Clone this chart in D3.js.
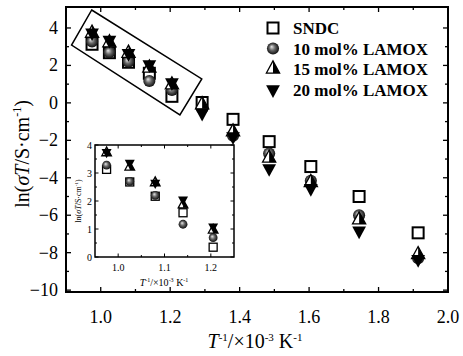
<!DOCTYPE html>
<html>
<head>
<meta charset="utf-8">
<script src="https://cdn.jsdelivr.net/npm/d3@7"></script>
<style>
  body { margin: 0; background: #fff; }
  text { font-family: "Liberation Serif", "Times New Roman", serif; }
</style>
</head>
<body>
<script>
// data
var invT = [0.975, 1.025, 1.08, 1.14, 1.205, 1.292, 1.381, 1.485, 1.605, 1.744, 1.914];
var sndc = [3.13, 2.68, 2.17, 1.58, 0.35, 0.02, -0.88, -2.07, -3.4, -5.0, -6.94];
var lamox10 = [3.28, 2.7, 2.2, 1.17, 0.69, -0.3, -1.75, -2.7, -4.16, -6.0, -8.3];
var lamox15 = [3.72, 3.21, 2.65, 1.86, 0.96, -0.1, -1.55, -2.95, -4.25, -6.25, -8.1];
var lamox20 = [3.75, 3.36, 2.65, 2.05, 1.09, -0.54, -1.8, -3.5, -4.56, -6.83, -8.35];
var seriesNames = ["SNDC", "10 mol% LAMOX", "15 mol% LAMOX", "20 mol% LAMOX"];
var xTicks = [1.0, 1.2, 1.4, 1.6, 1.8, 2.0];
var yTicks = [-10, -8, -6, -4, -2, 0, 2, 4];
var insetXTicks = [1.0, 1.1, 1.2];
var insetYTicks = [0, 1, 2, 3, 4];
// highlight box corners (data units)
var boxCorners = [[0.974, 4.96], [1.291, 1.28], [1.228, -0.64], [0.916, 3.09]];

var W = 463, H = 356;
var svg = d3.select("body").append("svg").attr("width", W).attr("height", H);

var defs = svg.append("defs");
var grad = defs.append("radialGradient").attr("id", "ball")
  .attr("cx", "0.5").attr("cy", "0.5").attr("r", "0.55").attr("fx", "0.38").attr("fy", "0.35");
grad.append("stop").attr("offset", "0").attr("stop-color", "#e8e8e8");
grad.append("stop").attr("offset", "0.45").attr("stop-color", "#666");
grad.append("stop").attr("offset", "1").attr("stop-color", "#000");

var series = [sndc, lamox10, lamox15, lamox20];

// draw one marker of type k at (px,py) with size s
function marker(g, k, px, py, s) {
  var m = g.append("g").attr("transform", "translate(" + px + "," + py + ")");
  if (k === 0) {
    m.append("rect").attr("x", -s / 2).attr("y", -s / 2).attr("width", s).attr("height", s)
      .attr("fill", "#fff").attr("stroke", "#000").attr("stroke-width", s > 9 ? 2 : 1.3);
  } else if (k === 1) {
    m.append("circle").attr("r", s * 0.55).attr("fill", "url(#ball)");
  } else if (k === 2) {
    var w = s * 1.2, h = s * 1.1;
    m.append("path").attr("d", "M0," + (-2 * h / 3) + "L" + (-w / 2) + "," + (h / 3) + "L" + (w / 2) + "," + (h / 3) + "Z")
      .attr("fill", "#fff");
    m.append("path").attr("d", "M0," + (-2 * h / 3) + "L" + (w / 2) + "," + (h / 3) + "L0," + (h / 3) + "Z")
      .attr("fill", "#000");
    m.append("path").attr("d", "M0," + (-2 * h / 3) + "L" + (-w / 2) + "," + (h / 3) + "L" + (w / 2) + "," + (h / 3) + "Z")
      .attr("fill", "none").attr("stroke", "#000").attr("stroke-width", 1.3);
  } else {
    var w2 = s * 1.25, h2 = s * 1.15;
    m.append("path").attr("d", "M0," + (2 * h2 / 3) + "L" + (-w2 / 2) + "," + (-h2 / 3) + "L" + (w2 / 2) + "," + (-h2 / 3) + "Z")
      .attr("fill", "#000");
  }
}

function ticks(g, scale, vals, orient, len, otherPos) {
  vals.forEach(function (v) {
    var p = scale(v);
    if (orient === "x") {
      g.append("line").attr("x1", p).attr("x2", p).attr("y1", otherPos[0]).attr("y2", otherPos[0] - len);
      g.append("line").attr("x1", p).attr("x2", p).attr("y1", otherPos[1]).attr("y2", otherPos[1] + len);
    } else {
      g.append("line").attr("y1", p).attr("y2", p).attr("x1", otherPos[0]).attr("x2", otherPos[0] + len);
      g.append("line").attr("y1", p).attr("y2", p).attr("x1", otherPos[1]).attr("x2", otherPos[1] - len);
    }
  });
}

// ---- main plot ----
var L = 66, R = 448, T = 7, B = 292;
var x = d3.scaleLinear().domain([0.9, 2.0]).range([L, R]);
var y = d3.scaleLinear().domain([-10.1, 5.12]).range([B, T]);

var tk = svg.append("g").attr("stroke", "#000").attr("stroke-width", 1.3);
ticks(tk, x, xTicks, "x", 5, [B, T]);
ticks(tk, x, d3.range(0.9, 2.0, 0.2).map(function (d) { return +d.toFixed(1); }), "x", 3, [B, T]);
ticks(tk, y, yTicks, "y", 5, [L, R]);
ticks(tk, y, d3.range(-9, 5, 2), "y", 3, [L, R]);

svg.append("rect").attr("x", L).attr("y", T).attr("width", R - L).attr("height", B - T)
  .attr("fill", "none").attr("stroke", "#000").attr("stroke-width", 2);

svg.append("g").selectAll("text").data(xTicks).enter().append("text")
  .attr("x", function (d) { return x(d); }).attr("y", B + 31)
  .attr("text-anchor", "middle").attr("font-size", 18)
  .text(function (d) { return d.toFixed(1); });
svg.append("g").selectAll("text").data(yTicks).enter().append("text")
  .attr("x", L - 8).attr("y", function (d) { return y(d) + 6; })
  .attr("text-anchor", "end").attr("font-size", 18)
  .text(function (d) { return d < 0 ? "\u2212" + (-d) : d; });

// axis titles
var xt = svg.append("text").attr("x", 255).attr("y", 348).attr("text-anchor", "middle").attr("font-size", 20);
xt.append("tspan").attr("font-style", "italic").text("T");
xt.append("tspan").attr("font-size", 11).attr("dy", -7).text("-1");
xt.append("tspan").attr("dy", 7).text("/\u00d710");
xt.append("tspan").attr("font-size", 11).attr("dy", -7).text("-3");
xt.append("tspan").attr("dy", 7).text(" K");
xt.append("tspan").attr("font-size", 11).attr("dy", -7).text("-1");

var yt = svg.append("text").attr("transform", "translate(29,154) rotate(-90)")
  .attr("text-anchor", "middle").attr("font-size", 20);
yt.append("tspan").text("ln(");
yt.append("tspan").attr("font-style", "italic").text("\u03c3T");
yt.append("tspan").text("/S\u00b7cm");
yt.append("tspan").attr("font-size", 12).attr("dy", -8).text("-1");
yt.append("tspan").attr("dy", 8).text(")");

// highlight box
svg.append("path")
  .attr("d", d3.line().x(function (d) { return x(d[0]); }).y(function (d) { return y(d[1]); })(boxCorners) + "Z")
  .attr("fill", "none").attr("stroke", "#000").attr("stroke-width", 1.5);

// points
var pts = svg.append("g");
series.forEach(function (vals, k) {
  vals.forEach(function (v, i) { marker(pts, k, x(invT[i]), y(v), 11); });
});

// legend
var leg = svg.append("g");
seriesNames.forEach(function (name, k) {
  var ly = 28 + k * 20.5;
  marker(leg, k, 273, ly, 11);
  leg.append("text").attr("x", 293).attr("y", ly + 6).attr("font-size", 17).attr("font-weight", "bold").text(name);
});

// ---- inset ----
var iL = 95, iR = 234, iT = 145, iB = 257;
var ix = d3.scaleLinear().domain([0.95, 1.25]).range([iL, iR]);
var iy = d3.scaleLinear().domain([0, 4]).range([iB, iT]);

var itk = svg.append("g").attr("stroke", "#000").attr("stroke-width", 1);
ticks(itk, ix, insetXTicks, "x", 3.5, [iB, iT]);
ticks(itk, ix, [1.05, 1.15], "x", 2, [iB, iT]);
ticks(itk, iy, insetYTicks, "y", 3.5, [iL, iR]);
ticks(itk, iy, [0.5, 1.5, 2.5, 3.5], "y", 2, [iL, iR]);

svg.append("rect").attr("x", iL).attr("y", iT).attr("width", iR - iL).attr("height", iB - iT)
  .attr("fill", "none").attr("stroke", "#000").attr("stroke-width", 1.5);

svg.append("g").selectAll("text").data(insetXTicks).enter().append("text")
  .attr("x", function (d) { return ix(d); }).attr("y", iB + 14)
  .attr("text-anchor", "middle").attr("font-size", 10)
  .text(function (d) { return d.toFixed(1); });
svg.append("g").selectAll("text").data(insetYTicks).enter().append("text")
  .attr("x", iL - 3).attr("y", function (d) { return iy(d) + 3.5; })
  .attr("text-anchor", "end").attr("font-size", 10)
  .text(function (d) { return d; });

var ixt = svg.append("text").attr("x", 164).attr("y", 286).attr("text-anchor", "middle").attr("font-size", 10);
ixt.append("tspan").attr("font-style", "italic").text("T");
ixt.append("tspan").attr("font-size", 6).attr("dy", -4).text("-1");
ixt.append("tspan").attr("dy", 4).text("/\u00d710");
ixt.append("tspan").attr("font-size", 6).attr("dy", -4).text("-3");
ixt.append("tspan").attr("dy", 4).text(" K");
ixt.append("tspan").attr("font-size", 6).attr("dy", -4).text("-1");

var iyt = svg.append("text").attr("transform", "translate(81,201) rotate(-90)")
  .attr("text-anchor", "middle").attr("font-size", 8);
iyt.append("tspan").text("ln(");
iyt.append("tspan").attr("font-style", "italic").text("\u03c3T");
iyt.append("tspan").text("/S\u00b7cm");
iyt.append("tspan").attr("font-size", 5).attr("dy", -3).text("-1");
iyt.append("tspan").attr("dy", 3).text(")");

var ipts = svg.append("g");
series.forEach(function (vals, k) {
  vals.forEach(function (v, i) {
    if (invT[i] < 1.25) marker(ipts, k, ix(invT[i]), iy(v), 8);
  });
});
</script>
</body>
</html>
